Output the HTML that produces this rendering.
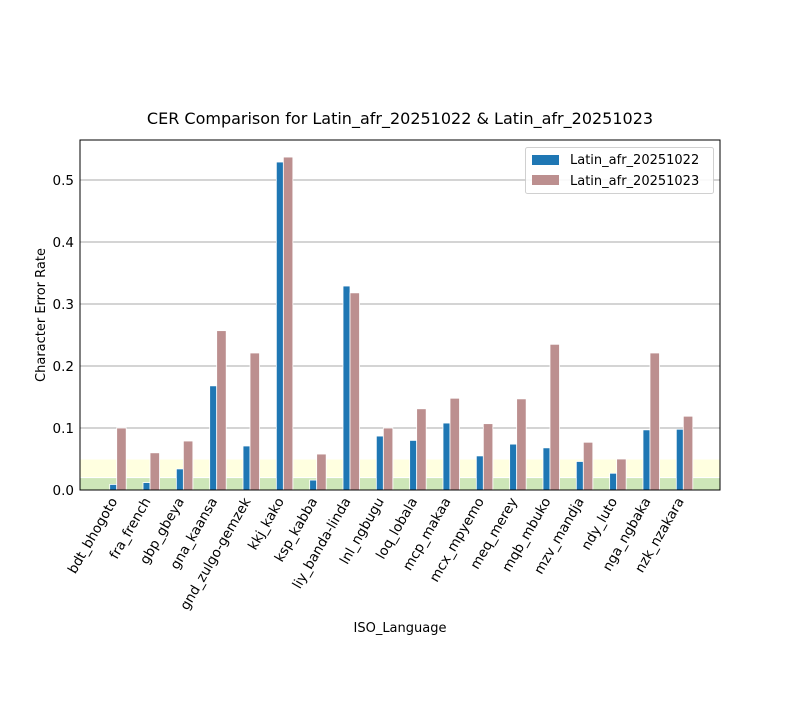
<!DOCTYPE html>
<html><head><meta charset="utf-8"><style>
body{margin:0;background:#fff;width:800px;height:700px;overflow:hidden}
text{font-family:"DejaVu Sans","Liberation Sans",sans-serif;fill:#000}
</style></head><body>
<svg id="chart" width="800" height="700" xmlns="http://www.w3.org/2000/svg">
<rect width="800" height="700" fill="#fff"/>
<g id="bands"></g><g id="grid"></g><g id="bars"></g><g id="xlabels"></g><g id="ylabels"></g>
<rect x="80" y="140" width="640" height="350" fill="none" stroke="#000" stroke-width="1"/>
<text x="400" y="124" font-size="16" text-anchor="middle">CER Comparison for Latin_afr_20251022 &amp; Latin_afr_20251023</text>
<text x="400" y="632" font-size="13" text-anchor="middle">ISO_Language</text>
<text transform="translate(45,315) rotate(-90)" font-size="13" text-anchor="middle">Character Error Rate</text>
<g>
<rect x="525.5" y="147.5" width="188" height="46" rx="2" fill="#fff" stroke="#ccc" opacity="0.9"/>
<rect x="532" y="155" width="27" height="10" fill="#1f77b4"/>
<text x="570" y="164" font-size="13">Latin_afr_20251022</text>
<rect x="532" y="175" width="27" height="10" fill="#bc8f8f"/>
<text x="570" y="185" font-size="13">Latin_afr_20251023</text>
</g>
</svg>
<script>
const categories=["bdt_bhogoto","fra_french","gbp_gbeya","gna_kaansa","gnd_zulgo-gemzek","kkj_kako","ksp_kabba","liy_banda-linda","lnl_ngbugu","loq_lobala","mcp_makaa","mcx_mpyemo","meq_merey","mqb_mbuko","mzv_mandja","ndy_luto","nga_ngbaka","nzk_nzakara"];
const series1=[0.009,0.012,0.034,0.168,0.071,0.529,0.016,0.329,0.087,0.080,0.108,0.055,0.074,0.068,0.046,0.027,0.097,0.098];
const series2=[0.100,0.060,0.079,0.257,0.221,0.537,0.058,0.318,0.100,0.131,0.148,0.107,0.147,0.235,0.077,0.050,0.221,0.119];
const yTicks=[0,0.1,0.2,0.3,0.4,0.5];
const yTickLabels=["0.0","0.1","0.2","0.3","0.4","0.5"];
const NS="http://www.w3.org/2000/svg";
const y=v=>490-620*v;
const xc=i=>116.7+33.33*i;
function mk(tag,attrs,parent){const e=document.createElementNS(NS,tag);for(const k in attrs)e.setAttribute(k,attrs[k]);document.getElementById(parent).appendChild(e);return e;}
categories.forEach((c,i)=>{
  const x0=i===0?80:xc(i-1)+9.3, x1=i===categories.length-1?720:xc(i)+9.3;
  let b=mk('rect',{x:x0,y:y(0.05),width:x1-x0,height:y(0.02)-y(0.05),fill:'#ffffe0',stroke:'#fff','stroke-width':1},'bands');
  
  
  let g=mk('rect',{x:x0,y:y(0.02),width:x1-x0,height:y(0)-y(0.02),fill:'#cde6b8',stroke:'#fff','stroke-width':1},'bands');
  
  
});
yTicks.forEach((t,i)=>{
  if(t>0){let l=mk('line',{x1:80,x2:720,y1:y(t),y2:y(t),stroke:'#aaaaaa','stroke-width':1},'grid');
  
  }
  let tx=mk('text',{x:74,y:y(t)+5,'font-size':13.5,'text-anchor':'end'},'ylabels');
  tx.textContent=yTickLabels[i];
  
  
});
categories.forEach((c,i)=>{
  const b1=mk('rect',{x:xc(i)-7,y:y(series1[i]),width:7,height:y(0)-y(series1[i]),fill:'#1f77b4',stroke:'#fff','stroke-width':0.8},'bars');
  
  
  const b2=mk('rect',{x:xc(i),y:y(series2[i]),width:9.5,height:y(0)-y(series2[i]),fill:'#bc8f8f',stroke:'#fff','stroke-width':0.8},'bars');
  
  
  const t=mk('text',{transform:`translate(${xc(i)+1},501) rotate(-60)`,'font-size':13.5,'text-anchor':'end'},'xlabels');
  t.textContent=c;
  
  
});
</script>
</body></html>
